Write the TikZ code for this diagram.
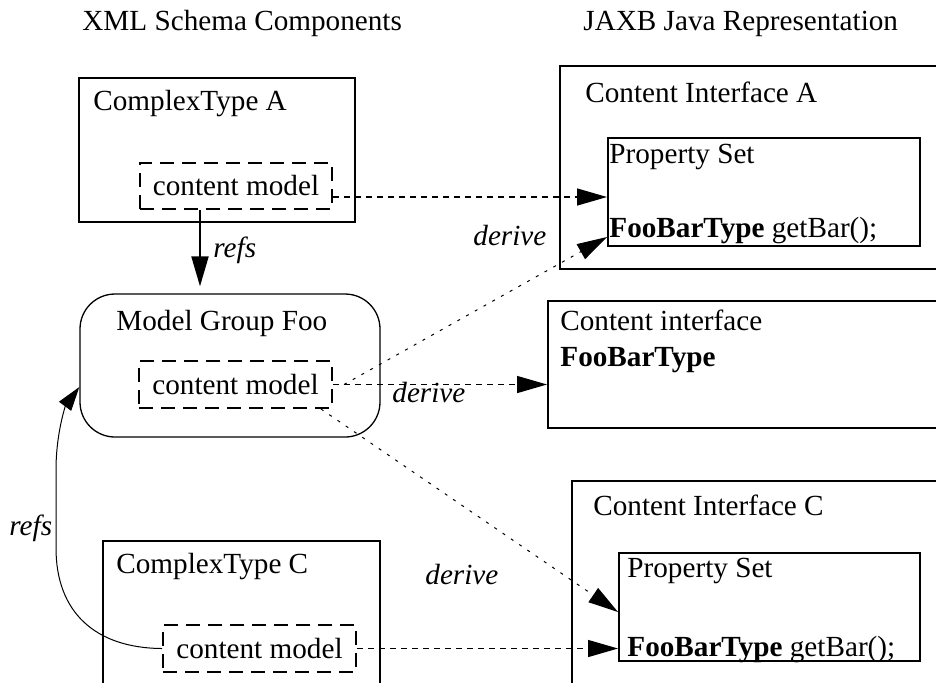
\documentclass[tikz,border=0pt]{standalone}
\usepackage{fontspec}
\setmainfont{Liberation Serif}
\usetikzlibrary{arrows.meta,fit}

\begin{document}
\begin{tikzpicture}[x=0.5pt,y=-0.5pt,
  every node/.style={font=\fontsize{14.6pt}{17.5pt}\selectfont, inner sep=0pt},
  txt/.style={anchor=base west},
  lbl/.style={anchor=base west, font=\fontsize{14.6pt}{17.5pt}\selectfont\itshape},
  solidbox/.style={draw, line width=1pt, inner sep=0pt},
  roundbox/.style={draw, line width=0.65pt, rounded corners=17.5pt, inner sep=0pt},
  modelbox/.style={draw, line width=1pt, dash pattern=on 7pt off 4pt, inner sep=0pt},
  hconn/.style={line width=0.7pt, dash pattern=on 3pt off 2.5pt},
  dconn/.style={line width=0.5pt, dash pattern=on 1.5pt off 3.5pt},
  refconn/.style={line width=1pt},
  curveconn/.style={line width=0.5pt},
  >={Triangle[length=15pt,width=8.5pt]}
]
\useasboundingbox (0,0) rectangle (936,682);
\clip (0,0) rectangle (936,682);

% column headings
\node[txt] (hSchema) at (82,30) {XML Schema Components};
\node[txt] (hJava) at (583,30) {JAXB Java Representation};

% schema side
\node[solidbox, fit={(79,78) (355,222)}] (ctA) {};
\node[txt] (ctAt) at (93,110) {ComplexType A};
\node[modelbox, minimum width=96pt, minimum height=23pt] (cmA) at (236,186) {content model};

\node[roundbox, fit={(80,294) (380,437)}] (mg) {};
\node[txt] (mgt) at (116,330) {Model Group Foo};
\node[modelbox, minimum width=96.5pt, minimum height=23.5pt] (cmM) at (235.5,384.5) {content model};

\node[solidbox, fit={(103,541) (380,700)}] (ctC) {};
\node[txt] (ctCt) at (116,573) {ComplexType C};
\node[modelbox, minimum width=96.5pt, minimum height=23.5pt] (cmC) at (259.5,648.5) {content model};

% Java side
\node[solidbox, fit={(560,66) (960,269)}] (ciA) {};
\node[txt] (ciAt) at (585,102) {Content Interface A};
\node[solidbox, fit={(608,138) (920,246)}] (psA) {};
\node[txt] (psAt) at (609,163) {Property Set};
\node[txt] (psAm) at (609,237) {\textbf{FooBarType} getBar();};

\node[solidbox, fit={(548,301) (960,428)}] (cif) {};
\node[txt] (cift) at (560,330) {Content interface};
\node[txt] (cifb) at (560,366) {\textbf{FooBarType}};

\node[solidbox, fit={(572,481) (960,700)}] (ciC) {};
\node[txt] (ciCt) at (593,515) {Content Interface C};
\node[solidbox, fit={(619,553) (920,661)}] (psC) {};
\node[txt] (psCt) at (627,577) {Property Set};
\node[txt] (psCm) at (627,656) {\textbf{FooBarType} getBar();};

% connectors
\coordinate (aOut) at ([yshift=-5.5pt]cmA.east);
\draw[hconn,->] (aOut) -- (aOut -| psA.west);
\draw[dconn,->] ([xshift=5.5pt]cmM.east) -- ([yshift=5pt]psA.south west);
\draw[hconn,->] (cmM.east) -- (cmM.east -| cif.west);
\draw[dconn,->] ([xshift=-6pt]cmM.south east) -- ([yshift=-2.5pt]psC.west);
\draw[hconn,->] (cmC.east) -- (cmC.east -| psC.west);

\coordinate (rA) at ([xshift=-18pt]cmA.south);
\draw[refconn,->,shorten >=3.5pt] (rA) -- (rA |- mg.north);
\draw[curveconn,-{Triangle[length=12pt,width=7.5pt]}] (cmC.west)
  .. controls (95,648) and (56,612) .. (56,548) -- (56,470)
  .. controls (56,432) and (66,405) .. ([yshift=-10.75pt]mg.west);

% connector labels
\node[lbl] (lrA) at (213,257) {refs};
\node[lbl] (lrC) at (9,535) {refs};
\node[lbl] (ld1) at (473,245) {derive};
\node[lbl] (ld2) at (392,402) {derive};
\node[lbl] (ld3) at (425,584) {derive};
\end{tikzpicture}
\end{document}
